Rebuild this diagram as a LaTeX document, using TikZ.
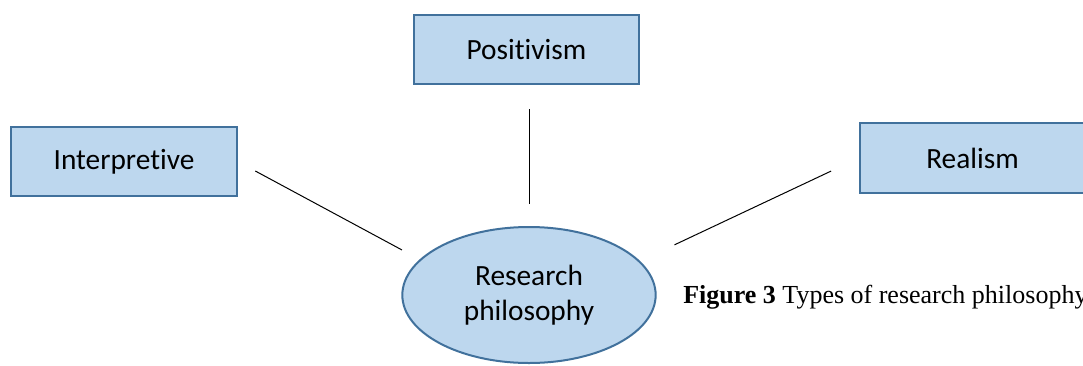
\documentclass[tikz,border=0pt]{standalone}
\usepackage{fontspec}
\setmainfont{Liberation Serif}
\newfontfamily\boxfont[Ligatures=NoCommon]{Carlito}
\usepackage{xcolor}
\usepackage{tikz}
\usetikzlibrary{shapes.geometric}
\definecolor{philfill}{HTML}{BDD7EE}
\definecolor{philedge}{HTML}{41719C}
\tikzset{
  kind/.style={rectangle,draw=philedge,fill=philfill,line width=1.5pt,minimum width=169pt,minimum height=52pt,inner sep=0pt,font=\boxfont\fontsize{22}{27}\selectfont},
  hub/.style={ellipse,draw=philedge,fill=philfill,line width=1.5pt,minimum width=190pt,minimum height=102pt,inner sep=0pt,align=center,font=\boxfont\fontsize{22}{26}\selectfont},
  spoke/.style={line width=0.75pt,draw=black}
}
\begin{document}
\begin{tikzpicture}[x=0.75pt,y=-0.75pt]
\useasboundingbox (0,0) rectangle (1083,365);
\node[hub] (resp) at (529,295) {Research\\philosophy};
\node[kind] (posi) at (526.5,49.5) {Positivism};
\node[kind] (interp) at (124,161.5) {Interpretive};
\node[kind] (real) at (972.5,158) {Realism};
\node[anchor=base west,inner sep=0pt,font=\fontsize{19.5}{24}\selectfont] (cap) at (683,303) {\textbf{Figure 3} Types of research philosophy};
\draw[spoke,shorten <=18pt,shorten >=16.5pt] (resp.north |- posi.south) -- (resp.north);
\draw[spoke,shorten <=15pt,shorten >=15pt] (interp.east) -- (resp.162.5);
\draw[spoke,shorten <=23pt,shorten >=28.5pt] (real.west) -- (resp.17);
\end{tikzpicture}
\end{document}
